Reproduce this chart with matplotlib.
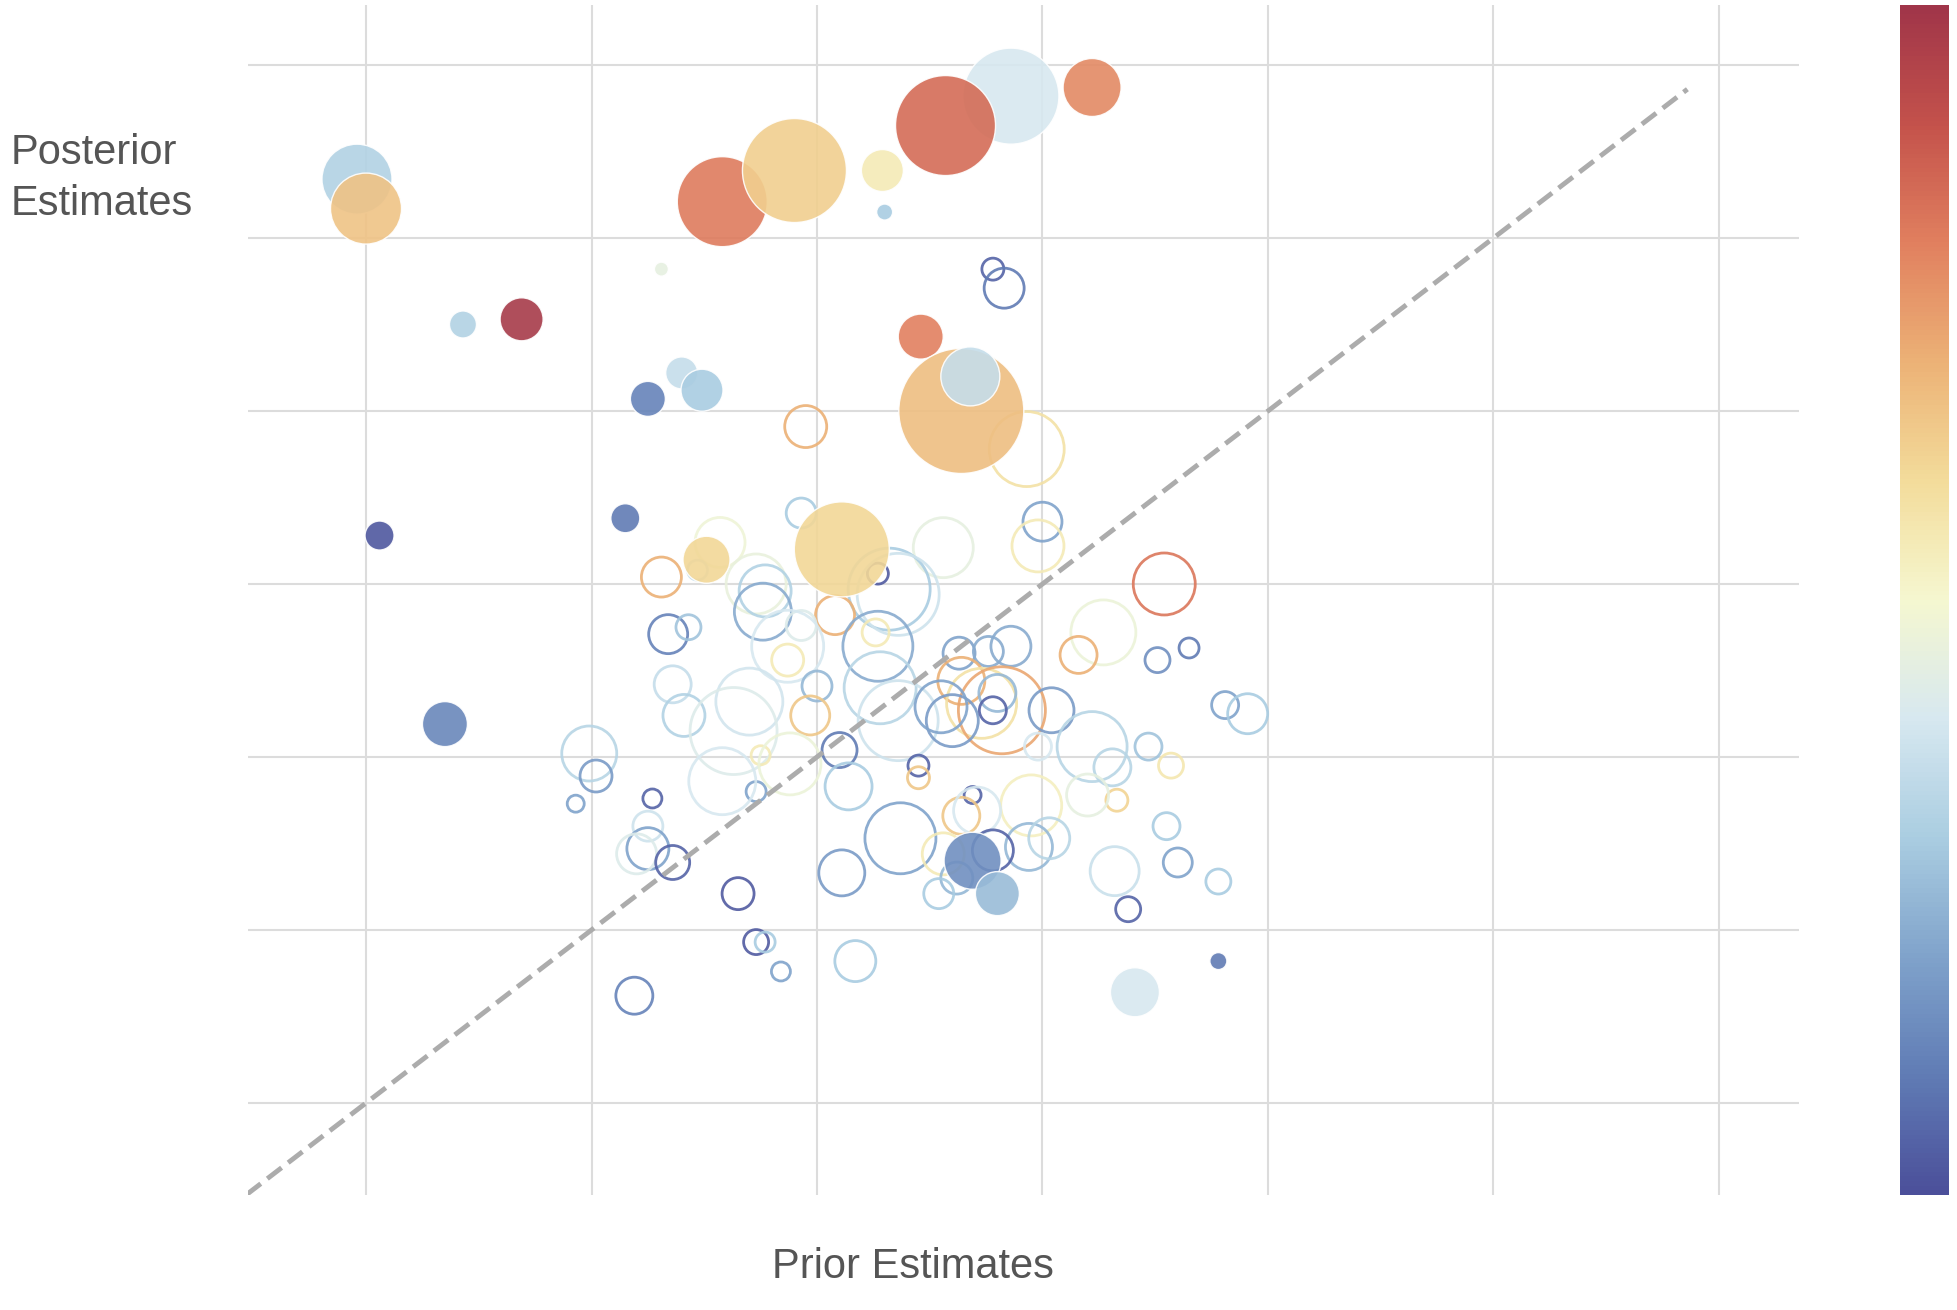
"""Bubble chart of prior vs posterior estimates, coloured by score."""

import matplotlib

matplotlib.use("Agg")
import matplotlib.pyplot as plt
from matplotlib.colors import LinearSegmentedColormap, Normalize
from matplotlib.cm import ScalarMappable

plt.rcParams["font.family"] = ["Liberation Sans", "DejaVu Sans"]

# hollow bubbles: prior, posterior, marker diameter (px), colour score (0..1)
hollow_prior = [
    2.78, 2.83, 2.93, 1.95, 1.93, 3.00, 2.98, 1.57, 1.47, 1.31, 2.27, 2.56, 3.54,
    2.32, 2.36, 1.73, 1.77, 1.76, 2.08, 1.93, 2.26, 1.34, 1.43, 3.27, 2.27, 1.87,
    3.16, 3.51, 3.65, 2.63, 2.86, 2.76, 1.87, 1.36, 2.00, 1.70, 2.28, 2.36, 2.64,
    2.73, 2.82, 2.80, 3.04, 2.60, 2.55, 2.78, 1.41, 1.97, 1.63, 3.22, 3.81, 3.91,
    3.47, 2.98, 0.99, 1.02, 0.93, 1.27, 1.73, 2.10, 2.45, 2.45, 2.69, 2.14, 1.58,
    1.75, 1.88, 3.31, 3.57, 3.33, 3.20, 2.95, 2.37, 2.64, 2.71, 3.55, 1.25, 1.25,
    1.20, 1.36, 2.11, 2.94, 3.03, 2.78, 2.56, 2.62, 2.54, 3.32, 3.60, 3.78, 3.38,
    1.65, 1.73, 1.77, 1.84, 2.17, 1.19,
]
hollow_posterior = [
    4.82, 4.71, 3.78, 3.91, 3.41, 3.36, 3.22, 3.24, 3.08, 3.04, 3.06, 3.21, 3.00,
    2.97, 2.94, 3.00, 2.96, 2.84, 2.82, 2.76, 2.72, 2.71, 2.75, 2.72, 2.64, 2.64,
    2.59, 2.56, 2.63, 2.60, 2.64, 2.61, 2.56, 2.42, 2.41, 2.32, 2.40, 2.21, 2.44,
    2.31, 2.27, 2.37, 2.27, 2.21, 2.29, 2.27, 2.24, 2.24, 2.15, 2.06, 2.30, 2.25,
    2.06, 2.06, 2.02, 1.89, 1.73, 1.76, 1.80, 2.04, 1.95, 1.88, 1.78, 1.83, 1.86,
    2.01, 1.96, 1.94, 1.95, 1.75, 1.78, 1.72, 1.53, 1.66, 1.69, 1.60, 1.60, 1.47,
    1.44, 1.39, 1.33, 1.48, 1.53, 1.46, 1.44, 1.30, 1.21, 1.34, 1.39, 1.28, 1.12,
    1.21, 0.93, 0.93, 0.76, 0.82, 0.62,
]
hollow_size = [
    22, 40, 75, 42, 30, 39, 52, 50, 20, 40, 21, 60, 62,
    82, 82, 60, 52, 57, 39, 30, 27, 39, 25, 65, 70, 72,
    37, 25, 20, 32, 40, 30, 32, 37, 30, 67, 72, 80, 47,
    70, 87, 37, 45, 52, 52, 27, 42, 39, 87, 70, 27, 40,
    27, 27, 55, 32, 17, 19, 20, 35, 21, 22, 17, 47, 67,
    19, 62, 37, 25, 22, 42, 61, 71, 37, 47, 27, 30, 42,
    40, 34, 46, 47, 41, 41, 42, 32, 30, 49, 29, 25, 25,
    32, 25, 20, 19, 41, 37,
]
hollow_score = [
    0.05, 0.10, 0.58, 0.70, 0.30, 0.20, 0.55, 0.48, 0.36, 0.70, 0.03, 0.45, 0.82,
    0.30, 0.38, 0.46, 0.32, 0.22, 0.70, 0.42, 0.55, 0.12, 0.28, 0.47, 0.22, 0.40,
    0.70, 0.15, 0.10, 0.20, 0.22, 0.22, 0.55, 0.36, 0.25, 0.39, 0.33, 0.38, 0.70,
    0.58, 0.72, 0.25, 0.18, 0.18, 0.20, 0.05, 0.32, 0.65, 0.42, 0.33, 0.20, 0.30,
    0.28, 0.40, 0.33, 0.18, 0.20, 0.05, 0.20, 0.10, 0.05, 0.65, 0.05, 0.30, 0.40,
    0.55, 0.47, 0.33, 0.56, 0.62, 0.45, 0.53, 0.20, 0.65, 0.40, 0.30, 0.38, 0.20,
    0.42, 0.05, 0.18, 0.25, 0.33, 0.05, 0.55, 0.25, 0.30, 0.37, 0.20, 0.30, 0.05,
    0.03, 0.03, 0.30, 0.20, 0.30, 0.12,
]

# filled bubbles
filled_prior = [
    -0.04, 0.00, 0.43, 0.69, 0.06, 0.35, 1.31, 2.86, 2.57, 3.22, 1.58, 1.90, 2.29,
    2.30, 2.46, 2.64, 2.68, 1.40, 1.49, 1.25, 1.15, 1.51, 2.11, 2.69, 2.80, 3.41,
    3.78,
]
filled_posterior = [
    5.34, 5.17, 4.50, 4.53, 3.28, 2.19, 4.82, 5.82, 5.65, 5.87, 5.21, 5.39, 5.39,
    5.15, 4.43, 4.00, 4.20, 4.22, 4.12, 4.07, 3.38, 3.14, 3.20, 1.40, 1.21, 0.64,
    0.82,
]
filled_size = [
    70, 71, 27, 43, 29, 45, 14, 96, 100, 58, 90, 104, 42,
    16, 45, 125, 59, 32, 42, 35, 29, 47, 95, 57, 44, 49,
    17,
]
filled_score = [
    0.32, 0.66, 0.32, 0.98, 0.02, 0.13, 0.45, 0.40, 0.84, 0.78, 0.81, 0.63, 0.55,
    0.30, 0.80, 0.67, 0.36, 0.36, 0.30, 0.12, 0.10, 0.61, 0.61, 0.15, 0.26, 0.40,
    0.10,
]

GRID_TICKS = [0, 1, 2, 3, 4, 5, 6]
DIAGONAL = [-0.53, 5.86]

# muted red-yellow-blue scale, low scores blue, high scores red
SCALE_COLORS = [
    "#4b4f9a", "#607cb5", "#80a3cb", "#aacde1", "#d7e8f0", "#f5f7d0",
    "#f3dc9b", "#ecb276", "#e1805f", "#c4524b", "#a03549",
]
CMAP = LinearSegmentedColormap.from_list("muted_rdylbu", SCALE_COLORS)
NORM = Normalize(0, 1)
TEXT_COLOR = "#555555"


def to_area(diameters):
    """Convert marker diameters in pixels (dpi 100) to scatter areas in pt^2."""
    return [(d * 0.72) ** 2 for d in diameters]


def main():
    fig = plt.figure(figsize=(19.58, 13.10), dpi=100)
    ax = fig.add_axes([0.1267, 0.0878, 0.7921, 0.9084])

    ax.scatter(
        hollow_prior,
        hollow_posterior,
        s=to_area(hollow_size),
        facecolors="none",
        edgecolors=CMAP(NORM(hollow_score)),
        linewidths=2.0,
        alpha=0.9,
        zorder=2,
    )
    ax.scatter(
        filled_prior,
        filled_posterior,
        s=to_area(filled_size),
        c=filled_score,
        cmap=CMAP,
        norm=NORM,
        edgecolors="white",
        linewidths=1.0,
        alpha=0.9,
        zorder=3,
    )

    ax.plot(
        DIAGONAL,
        DIAGONAL,
        color="#acacac",
        linewidth=3.5,
        dashes=(3.7, 1.7),
        zorder=4,
    )

    ax.set_xlim(-0.523, 6.355)
    ax.set_ylim(-0.532, 6.347)
    ax.set_xticks(GRID_TICKS)
    ax.set_yticks(GRID_TICKS)
    ax.tick_params(length=0, labelbottom=False, labelleft=False)
    ax.grid(color="#dcdcdc", linewidth=1.5, zorder=0)
    ax.set_axisbelow(True)
    for spine in ax.spines.values():
        spine.set_visible(False)

    fig.text(
        0.0056, 0.8636, "Posterior\nEstimates",
        fontsize=30, color=TEXT_COLOR, ha="left", va="center", linespacing=1.35,
    )
    fig.text(
        0.4663, 0.0332, "Prior Estimates",
        fontsize=30, color=TEXT_COLOR, ha="center", va="center",
    )

    cax = fig.add_axes([0.9704, 0.0878, 0.025, 0.9084])
    cbar = fig.colorbar(ScalarMappable(norm=NORM, cmap=CMAP), cax=cax)
    cbar.set_ticks([])
    cbar.outline.set_visible(False)

    fig.savefig("out.png", dpi=100)
    plt.close(fig)


if __name__ == "__main__":
    main()
